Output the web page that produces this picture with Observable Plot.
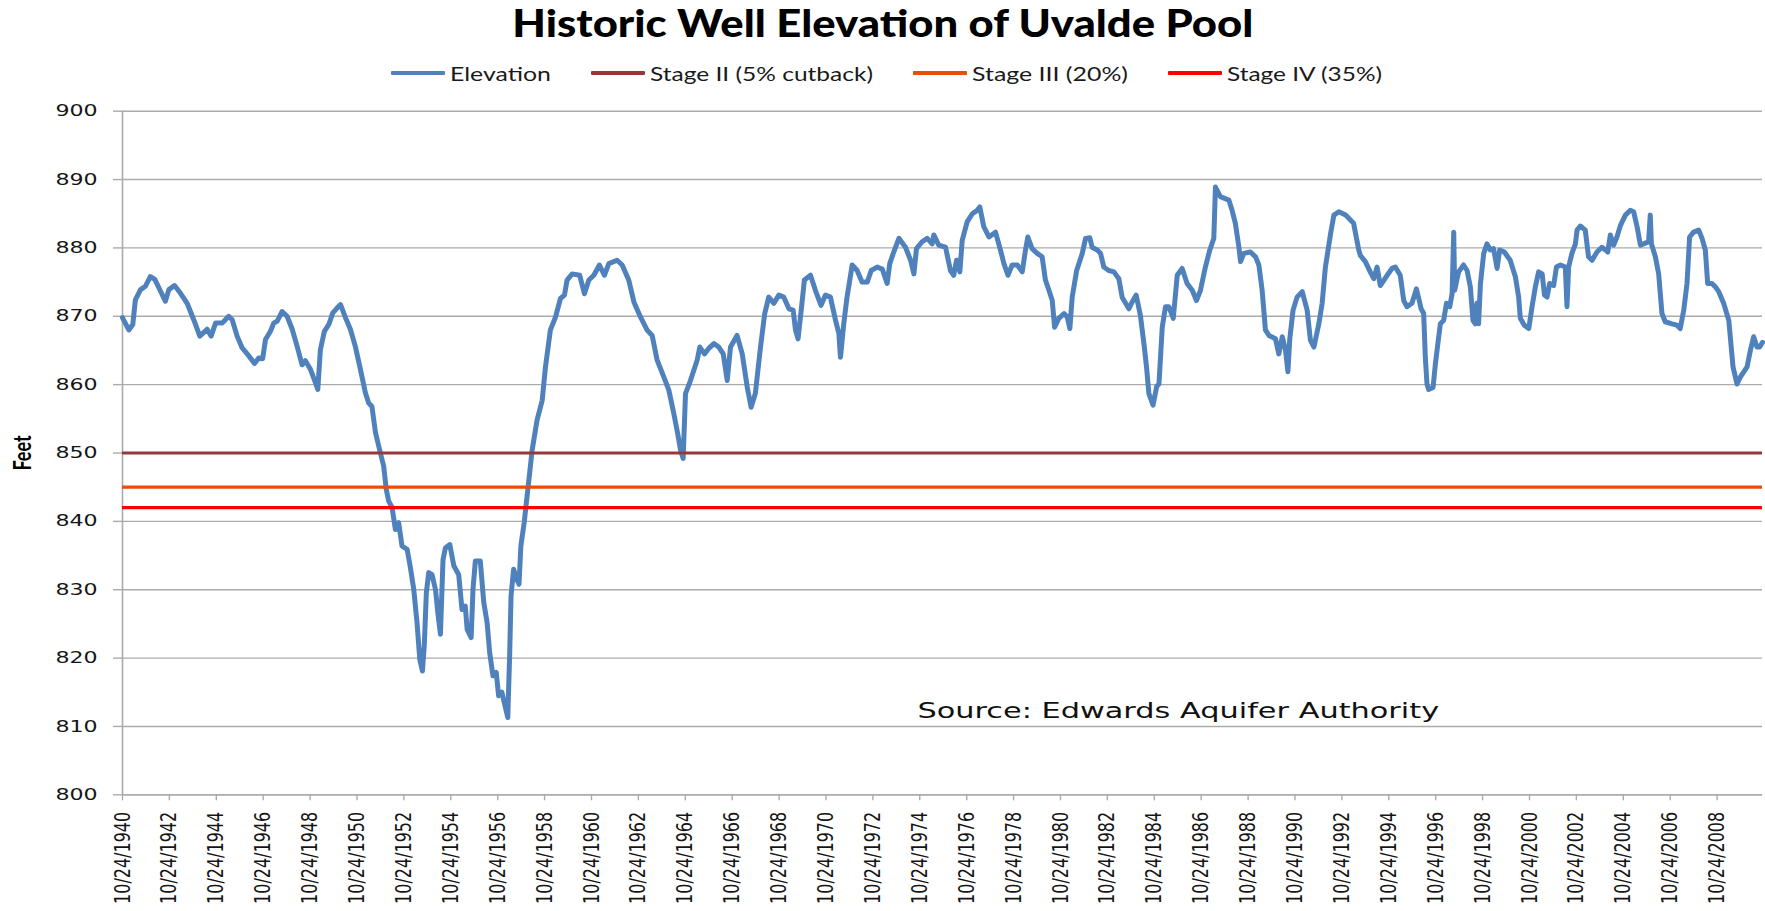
<!DOCTYPE html>
<html>
<head>
<meta charset="utf-8">
<script src="https://cdn.jsdelivr.net/npm/d3@7"></script>
<script src="https://cdn.jsdelivr.net/npm/@observablehq/plot@0.6"></script>
<style>
  html, body { margin: 0; padding: 0; background: #fff; }
  #wrap { width: 1765px; height: 911px; position: relative; overflow: hidden; background: #fff; }
  #header { position: relative; width: 1765px; height: 90px; }
  #title { position: absolute; top: 0; left: 0; width: 1765px; text-align: center;
           font-family: Lato, "Open Sans", sans-serif; font-weight: 900; font-size: 38px;
           line-height: 44px; color: #000; }
  #title span { display: inline-block; white-space: nowrap; transform-origin: center center; }
  #legend { position: absolute; top: 60px; left: 0; width: 1765px; height: 26px; box-sizing: border-box;
            padding-left: 7px; display: flex; justify-content: center; align-items: center; }
  .item { display: flex; align-items: center; margin: 0 20px; }
  .sw { width: 54px; height: 4px; margin-right: 5px; border-radius: 1px; }
  .lab { display: inline-block; white-space: nowrap; overflow: visible; }
  .lab span { display: inline-block; white-space: nowrap; transform-origin: left center;
              font-family: Lato, "Open Sans", sans-serif; font-size: 19px; color: #1a1a1a; }
  #chart svg { display: block; }
</style>
</head>
<body>
<div id="wrap">
  <div id="header">
    <div id="title"><span id="titleText"></span></div>
    <div id="legend"></div>
  </div>
  <div id="chart"></div>
</div>
<script>
// ---------------- data ----------------
const chartTitle = "Historic Well Elevation of Uvalde Pool";
const yLabel = "Feet";
const seriesNames = ["Elevation", "Stage II (5% cutback)", "Stage III (20%)", "Stage IV (35%)"];
const seriesColors = ["#4F81BD", "#963A38", "#EC4A0E", "#FF0000"];
const stageLevels = [850, 845, 842];            // Stage II, III, IV (feet)
const yTicks = [800, 810, 820, 830, 840, 850, 860, 870, 880, 890, 900];
const xTickYears = [1940, 1942, 1944, 1946, 1948, 1950, 1952, 1954, 1956, 1958, 1960, 1962,
                    1964, 1966, 1968, 1970, 1972, 1974, 1976, 1978, 1980, 1982, 1984, 1986,
                    1988, 1990, 1992, 1994, 1996, 1998, 2000, 2002, 2004, 2006, 2008];
const sourceNote = {label: "Source: Edwards Aquifer Authority", year: 1974.71, feet: 811.2};

// elevation series: decimal year and feet
const elevYears = [
 1940.81,1941.08,1941.25,1941.36,1941.58,1941.79,1942.00,1942.19,1942.43,1942.64,1942.79,1943.03,
 1943.28,1943.57,1943.85,1944.11,1944.42,1944.59,1944.78,1945.06,1945.34,1945.49,1945.70,1945.91,
 1946.20,1946.44,1946.62,1946.79,1946.91,1947.12,1947.26,1947.41,1947.62,1947.83,1948.05,1948.26,
 1948.47,1948.61,1948.83,1949.04,1949.14,1949.25,1949.42,1949.61,1949.78,1949.96,1950.11,1950.32,
 1950.53,1950.74,1950.96,1951.17,1951.31,1951.45,1951.60,1951.81,1951.95,1952.06,1952.16,1952.31,
 1952.45,1952.59,1952.73,1952.95,1953.09,1953.23,1953.37,1953.49,1953.60,1953.68,1953.77,1953.87,
 1954.01,1954.16,1954.26,1954.37,1954.48,1954.58,1954.77,1954.94,1955.15,1955.29,1955.43,1955.51,
 1955.68,1955.76,1955.86,1956.07,1956.22,1956.36,1956.47,1956.61,1956.75,1956.85,1956.99,1957.09,
 1957.24,1957.32,1957.38,1957.49,1957.63,1957.72,1957.80,1957.94,1958.14,1958.28,1958.49,1958.71,
 1958.85,1959.06,1959.28,1959.49,1959.66,1959.77,1959.99,1960.31,1960.51,1960.70,1960.91,1961.15,
 1961.36,1961.55,1961.90,1962.12,1962.40,1962.62,1962.90,1963.18,1963.40,1963.61,1963.90,1964.11,
 1964.32,1964.49,1964.61,1964.72,1964.82,1965.03,1965.32,1965.43,1965.63,1965.81,1966.03,1966.24,
 1966.43,1966.60,1966.74,1967.02,1967.24,1967.45,1967.62,1967.80,1968.02,1968.20,1968.37,1968.59,
 1968.80,1969.01,1969.23,1969.41,1969.51,1969.62,1969.77,1969.89,1970.15,1970.36,1970.60,1970.79,
 1971.00,1971.22,1971.36,1971.43,1971.57,1971.71,1971.93,1972.14,1972.35,1972.57,1972.74,1972.99,
 1973.21,1973.42,1973.53,1973.70,1973.92,1974.20,1974.42,1974.56,1974.67,1974.91,1975.13,1975.34,
 1975.41,1975.62,1975.91,1976.12,1976.26,1976.38,1976.52,1976.62,1976.83,1977.05,1977.26,1977.37,
 1977.54,1977.76,1978.04,1978.25,1978.40,1978.57,1978.75,1978.97,1979.18,1979.32,1979.42,1979.60,
 1979.82,1980.03,1980.17,1980.32,1980.46,1980.56,1980.74,1980.96,1981.10,1981.21,1981.31,1981.50,
 1981.74,1981.88,1982.06,1982.16,1982.38,1982.52,1982.66,1982.87,1983.09,1983.30,1983.44,1983.73,
 1983.87,1984.04,1984.22,1984.37,1984.48,1984.58,1984.76,1984.91,1985.01,1985.15,1985.29,1985.43,
 1985.62,1985.79,1986.00,1986.21,1986.43,1986.61,1986.78,1986.99,1987.18,1987.35,1987.42,1987.63,
 1987.99,1988.13,1988.27,1988.42,1988.49,1988.63,1988.91,1989.13,1989.27,1989.41,1989.55,1989.70,
 1989.98,1990.12,1990.27,1990.41,1990.51,1990.59,1990.73,1990.90,1991.12,1991.33,1991.47,1991.62,
 1991.83,1991.97,1992.11,1992.33,1992.47,1992.68,1992.97,1993.31,1993.53,1993.60,1993.81,1994.02,
 1994.17,1994.31,1994.45,1994.74,1994.95,1995.09,1995.30,1995.45,1995.59,1995.80,1995.99,1996.09,
 1996.19,1996.30,1996.37,1996.44,1996.51,1996.70,1996.80,1996.94,1997.01,1997.15,1997.27,1997.41,
 1997.51,1997.58,1997.62,1997.79,1998.00,1998.15,1998.29,1998.40,1998.50,1998.57,1998.64,1998.72,
 1998.86,1999.00,1999.14,1999.28,1999.43,1999.54,1999.74,1999.99,2000.21,2000.35,2000.42,2000.59,
 2000.78,2000.92,2001.06,2001.20,2001.35,2001.45,2001.56,2001.67,2001.84,2001.96,2002.13,2002.34,
 2002.41,2002.48,2002.62,2002.77,2002.84,2002.98,2003.19,2003.33,2003.48,2003.69,2003.90,2004.05,
 2004.15,2004.26,2004.40,2004.54,2004.69,2004.90,2005.11,2005.25,2005.40,2005.54,2005.75,2005.89,
 2005.96,2006.01,2006.18,2006.32,2006.46,2006.60,2006.89,2007.10,2007.24,2007.39,2007.53,2007.64,
 2007.81,2008.03,2008.17,2008.31,2008.41,2008.59,2008.74,2008.88,2009.09,2009.31,2009.40,2009.49,
 2009.66,2009.80,2010.09,2010.23,2010.37,2010.51,2010.62,2010.75
];
const elevFeet = [
 869.8,868.0,868.8,872.4,873.9,874.4,875.8,875.4,873.7,872.2,873.9,874.5,
 873.4,871.9,869.5,867.1,868.1,867.1,869.0,869.0,870.0,869.5,867.1,865.4,
 864.2,863.1,863.9,863.8,866.6,867.8,869.0,869.3,870.7,870.0,868.1,865.6,
 862.9,863.5,862.2,860.3,859.3,865.1,867.8,868.8,870.5,871.2,871.7,869.8,
 868.1,865.6,862.2,858.8,857.3,856.8,853.0,850.0,848.1,844.7,843.0,842.0,
 838.8,839.8,836.4,835.9,833.2,830.1,825.2,819.8,818.1,821.8,829.6,832.5,
 832.2,830.0,826.6,823.5,834.4,836.1,836.6,833.5,832.2,827.1,827.6,824.2,
 823.0,830.1,834.2,834.2,828.1,825.2,820.8,817.4,817.9,814.5,815.0,813.5,
 811.3,820.3,829.1,833.0,831.5,830.8,836.4,839.8,846.0,850.4,854.8,857.7,
 862.6,868.0,869.9,872.6,873.1,875.3,876.2,876.0,873.3,875.3,876.0,877.5,
 876.0,877.7,878.2,877.5,875.3,872.1,869.9,868.0,867.2,863.6,861.1,859.2,
 855.8,852.8,850.4,849.2,858.7,860.6,863.6,865.5,864.5,865.3,866.0,865.5,
 864.5,860.6,865.5,867.2,864.5,859.7,856.7,858.7,865.5,870.4,872.8,871.9,
 873.1,872.8,871.1,870.9,868.0,866.7,871.4,875.3,876.0,873.8,871.6,873.1,
 872.8,869.4,867.5,864.0,868.9,872.8,877.5,876.7,875.0,875.0,876.7,877.2,
 876.9,874.8,877.7,879.4,881.4,880.1,878.2,876.2,879.9,880.9,881.4,880.6,
 881.9,880.4,880.1,876.7,876.0,878.2,876.5,881.1,883.8,885.0,885.5,886.0,
 883.1,881.6,882.3,879.7,877.7,876.0,877.5,877.5,876.5,879.7,881.6,879.9,
 879.2,878.7,875.3,873.8,872.3,868.4,869.7,870.4,869.9,868.2,872.8,876.7,
 879.2,881.4,881.5,880.1,879.7,879.2,877.2,876.7,876.5,875.5,872.8,871.1,
 872.1,873.1,870.1,866.0,862.6,858.7,857.0,859.7,860.1,868.4,871.4,871.4,
 869.7,876.0,877.0,874.8,873.8,872.3,873.8,877.2,879.7,881.4,888.9,887.5,
 887.0,885.5,883.6,880.1,878.0,879.2,879.4,878.7,877.5,873.8,868.0,867.2,
 866.7,864.5,867.0,865.0,861.9,866.7,870.9,872.8,873.6,870.9,866.5,865.5,
 868.9,871.9,877.2,882.1,884.8,885.3,884.8,883.6,879.7,878.9,878.0,876.5,
 875.5,877.2,874.5,876.0,877.0,877.2,876.0,872.3,871.4,871.9,874.0,872.6,
 871.1,870.4,864.0,860.1,859.3,859.6,863.1,867.0,868.9,869.4,871.9,871.4,
 873.3,882.3,873.8,876.5,877.5,876.7,874.3,869.4,868.9,871.9,868.9,874.8,
 879.2,880.6,879.7,879.9,877.0,879.7,879.4,878.2,875.8,872.8,869.7,868.7,
 868.2,871.4,874.3,876.5,876.2,873.1,872.8,874.8,874.5,877.2,877.5,877.2,
 871.4,877.2,879.2,880.6,882.6,883.2,882.6,878.7,878.2,879.4,880.1,879.7,
 879.4,881.9,880.4,881.6,883.3,884.8,885.5,885.3,883.1,880.4,880.7,880.9,
 884.8,880.6,878.7,876.2,870.4,869.2,868.9,868.7,868.2,870.9,874.8,881.6,
 882.3,882.6,881.4,879.7,874.8,874.8,874.3,873.6,871.9,869.4,866.0,862.6,
 860.1,861.1,862.6,865.0,867.0,865.5,865.5,866.2
];

// ---------------- helpers ----------------
function yearToDate(y) {
  const yr = Math.floor(y);
  const a = Date.UTC(yr, 0, 1), b = Date.UTC(yr + 1, 0, 1);
  return new Date(a + (y - yr) * (b - a));
}
const elevation = elevYears.map((y, i) => ({date: yearToDate(y), feet: elevFeet[i]}));
const xTickDates = xTickYears.map(y => new Date(Date.UTC(y, 9, 24)));
const xDomain = [new Date(Date.UTC(1940, 9, 24)), new Date(Date.UTC(2010, 9, 1))];
const yDomain = [yTicks[0], yTicks[yTicks.length - 1]];
const stages = stageLevels.map((v, i) => ({feet: v, name: seriesNames[i + 1], color: seriesColors[i + 1]}));
const note = [{date: yearToDate(sourceNote.year), feet: sourceNote.feet, label: sourceNote.label}];

const gridColor = "#ababab";
const textColor = "#151515";

// ---------------- chart ----------------
const chart = Plot.plot({
  width: 1765,
  height: 821,
  marginTop: 20.7,
  marginBottom: 116.7,
  marginLeft: 122,
  marginRight: 3,
  x: {type: "utc", domain: xDomain},
  y: {domain: yDomain},
  style: {fontFamily: "'DejaVu Sans', Verdana, sans-serif", fontSize: "16px", color: textColor, background: "#fff"},
  marks: [
    Plot.gridY(yTicks, {stroke: gridColor, strokeOpacity: 1, strokeWidth: 1.4}),
    Plot.ruleY([yDomain[0]], {stroke: gridColor, strokeWidth: 1.6}),
    Plot.ruleX([xDomain[0]], {stroke: gridColor, strokeWidth: 1.6}),
    Plot.axisY(yTicks, {
      tickSize: 9, tickPadding: 16, stroke: gridColor, strokeWidth: 1.4, fill: textColor, fontSize: 16,
      tickFormat: d => String(d),
      label: yLabel, labelAnchor: "center", labelOffset: 109, labelArrow: "none"
    }),
    Plot.axisX(xTickDates, {
      tickSize: 6, tickPadding: 11, tickRotate: -90, lineAnchor: "middle",
      stroke: gridColor, strokeWidth: 1.4, fill: textColor, fontSize: 16,
      tickFormat: d => `10/24/${d.getUTCFullYear()}`, label: null
    }),
    Plot.line(elevation, {x: "date", y: "feet", stroke: seriesColors[0], strokeWidth: 5,
                          strokeLinejoin: "round", strokeLinecap: "round"}),
    ...stages.map(s => Plot.ruleY([s.feet], {stroke: s.color, strokeWidth: 3.2})),
    Plot.text(note, {x: "date", y: "feet", text: "label", textAnchor: "start", lineAnchor: "bottom",
                     fontSize: 22, fill: "#111", fontFamily: "'DejaVu Sans', Verdana, sans-serif"})
  ]
});
document.getElementById("chart").appendChild(chart);

// horizontal stretch of the original picture's lettering
const stretch = 1.38;
function appendTransform(sel, extra) {
  chart.querySelectorAll(sel).forEach(t => {
    const tr = t.getAttribute("transform") || "";
    t.setAttribute("transform", (tr + " " + extra).trim());
  });
}
appendTransform('g[aria-label="y-axis tick label"] text', `scale(${stretch},1)`);
appendTransform('g[aria-label="x-axis tick label"] text', `scale(1,${stretch})`);
appendTransform('g[aria-label="text"] text', `scale(${stretch},1)`);
chart.querySelectorAll('g[aria-label="y-axis label"] text').forEach(t => {
  t.style.fontFamily = "Lato, 'Open Sans', sans-serif";
  t.style.fontWeight = "bold";
  t.style.fontSize = "18px";
  t.style.fill = "#000";
});
appendTransform('g[aria-label="y-axis label"] text', `scale(1,${stretch})`);

// ---------------- title & legend ----------------
const titleEl = document.getElementById("titleText");
titleEl.textContent = chartTitle;
const legendEl = document.getElementById("legend");
const legendTextWidths = [101, 223, 156, 155];
const legendInner = [];
seriesNames.forEach((name, i) => {
  const item = document.createElement("div");
  item.className = "item";
  const sw = document.createElement("div");
  sw.className = "sw";
  sw.style.background = seriesColors[i];
  const lab = document.createElement("span");
  lab.className = "lab";
  lab.style.width = legendTextWidths[i] + "px";
  const inner = document.createElement("span");
  inner.textContent = name;
  lab.appendChild(inner);
  item.appendChild(sw);
  item.appendChild(lab);
  legendEl.appendChild(item);
  legendInner.push(inner);
});
function fitText() {
  titleEl.style.transform = "none";
  const tw = titleEl.getBoundingClientRect().width;
  titleEl.style.transform = `scaleX(${741 / tw})`;
  legendInner.forEach((el, i) => {
    el.style.transform = "none";
    const w = el.getBoundingClientRect().width;
    el.style.transform = `scaleX(${legendTextWidths[i] / w})`;
  });
}
fitText();
if (document.fonts && document.fonts.ready) document.fonts.ready.then(fitText);
</script>
</body>
</html>
